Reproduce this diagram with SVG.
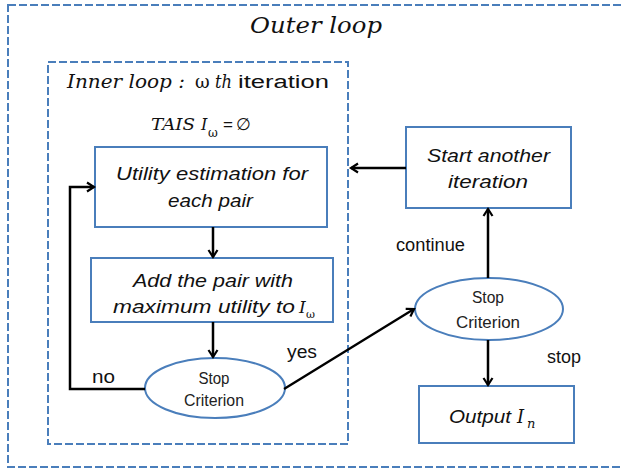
<svg xmlns="http://www.w3.org/2000/svg" width="621" height="470" viewBox="0 0 621 470">
<defs>
<style>
.dash{fill:none;stroke:#4a7ebb;stroke-width:2;stroke-dasharray:8,3}
.box{fill:#fff;stroke:#4a7ebb;stroke-width:2}
.con{fill:none;stroke:#000;stroke-width:2.5}
.ser{font-family:"DejaVu Serif","Liberation Serif",serif;font-style:italic;fill:#111}
.sans{font-family:"Liberation Sans",Arial,sans-serif;fill:#111}
.bt{font-family:"Liberation Sans",Arial,sans-serif;font-style:italic;font-size:18px;fill:#111}
.et{font-family:"Liberation Sans",Arial,sans-serif;font-size:16px;fill:#222;text-anchor:middle}
.lab{font-family:"Liberation Sans",Arial,sans-serif;font-size:18px;fill:#111}
</style>
<marker id="arr" markerWidth="12" markerHeight="12" refX="9" refY="6" orient="auto" markerUnits="userSpaceOnUse">
<path d="M2,1.5 L9,6 L2,10.5" fill="none" stroke="#000" stroke-width="2.2"/>
</marker>
</defs>
<g id="outer-loop">
<rect class="dash" x="8" y="5" width="625" height="462"/>
<text class="ser" x="250" y="33" font-size="22" textLength="132" lengthAdjust="spacingAndGlyphs">Outer loop</text>
</g>
<g id="inner-loop">
<rect class="dash" x="48" y="62" width="300" height="382"/>
<text class="ser" x="67" y="88" font-size="18" textLength="118" lengthAdjust="spacingAndGlyphs">Inner loop :</text>
<text x="195" y="88" font-size="18" font-family="DejaVu Serif, serif" fill="#111">ω</text>
<text class="ser" x="215" y="88" font-size="18" textLength="17" lengthAdjust="spacingAndGlyphs">th</text>
<text class="sans" x="238" y="88" font-size="18" textLength="91" lengthAdjust="spacingAndGlyphs">iteration</text>
<text class="ser" x="151" y="130" font-size="16" textLength="44" lengthAdjust="spacingAndGlyphs">TAIS</text>
<text class="ser" x="201" y="130" font-size="16">I</text>
<text x="208" y="137" font-size="12" font-family="DejaVu Serif, serif" fill="#111">ω</text>
<text class="sans" x="223" y="130" font-size="17">=</text>
<text class="sans" x="236" y="130" font-size="17">∅</text>
</g>
<g id="utility">
<rect class="box" x="95" y="147" width="232" height="80"/>
<text class="bt" x="116" y="180" textLength="192" lengthAdjust="spacingAndGlyphs">Utility estimation for</text>
<text class="bt" x="168" y="207" textLength="85" lengthAdjust="spacingAndGlyphs">each pair</text>
</g>
<g id="add-pair">
<rect class="box" x="91" y="258" width="242" height="64"/>
<text class="bt" x="133" y="287" textLength="160" lengthAdjust="spacingAndGlyphs">Add the pair with</text>
<text class="bt" x="113" y="313" textLength="182" lengthAdjust="spacingAndGlyphs">maximum utility to</text>
<text class="ser" x="299" y="313" font-size="17">I</text>
<text x="306" y="318" font-size="11" font-family="DejaVu Serif, serif" fill="#111">ω</text>
</g>
<g id="stop-inner">
<ellipse class="box" cx="215" cy="388" rx="70" ry="30"/>
<text class="et" x="214" y="384" textLength="31" lengthAdjust="spacingAndGlyphs">Stop</text>
<text class="et" x="214" y="406" textLength="60" lengthAdjust="spacingAndGlyphs">Criterion</text>
</g>
<g id="start-another">
<rect class="box" x="406" y="127" width="165" height="81"/>
<text class="bt" x="427" y="162" textLength="123" lengthAdjust="spacingAndGlyphs">Start another</text>
<text class="bt" x="448" y="188" textLength="80" lengthAdjust="spacingAndGlyphs">iteration</text>
</g>
<g id="stop-outer">
<ellipse class="box" cx="489" cy="309" rx="74" ry="31"/>
<text class="et" x="488" y="303" textLength="32" lengthAdjust="spacingAndGlyphs">Stop</text>
<text class="et" x="488" y="328" textLength="64" lengthAdjust="spacingAndGlyphs">Criterion</text>
</g>
<g id="output">
<rect class="box" x="419" y="386" width="155" height="57"/>
<text class="bt" x="449" y="423" textLength="62" lengthAdjust="spacingAndGlyphs">Output</text>
<text class="ser" x="517" y="423" font-size="18">I</text>
<text class="ser" x="527" y="428" font-size="13">n</text>
</g>
<g id="connectors">
<line class="con" x1="213" y1="227" x2="213" y2="257" marker-end="url(#arr)"/>
<line class="con" x1="213" y1="322" x2="213" y2="357" marker-end="url(#arr)"/>
<polyline class="con" points="145,389 70,389 70,187 94,187" marker-end="url(#arr)"/>
<line class="con" x1="284" y1="389" x2="414" y2="309" marker-end="url(#arr)"/>
<line class="con" x1="488" y1="278" x2="488" y2="209" marker-end="url(#arr)"/>
<line class="con" x1="488" y1="340" x2="488" y2="385" marker-end="url(#arr)"/>
<line class="con" x1="406" y1="168" x2="351" y2="168" marker-end="url(#arr)"/>
<text class="lab" x="92" y="383" textLength="23" lengthAdjust="spacingAndGlyphs">no</text>
<text class="lab" x="287" y="358" textLength="30" lengthAdjust="spacingAndGlyphs">yes</text>
<text class="lab" x="396" y="251" textLength="69" lengthAdjust="spacingAndGlyphs">continue</text>
<text class="lab" x="547" y="363" textLength="34" lengthAdjust="spacingAndGlyphs">stop</text>
</g>
</svg>
